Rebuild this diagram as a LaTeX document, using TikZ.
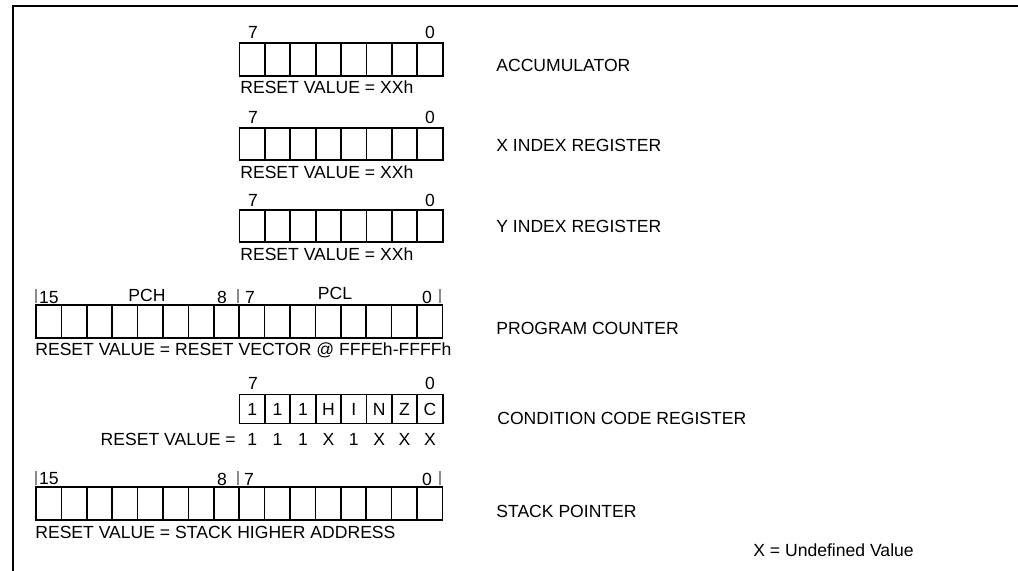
\documentclass[tikz,border=0pt]{standalone}
\usepackage{fontspec}
\setmainfont{Liberation Sans}
\usetikzlibrary{positioning}

\begin{document}
\begin{tikzpicture}[
			x=0.02cm, y=-0.02cm,
			cell/.style={draw=black, line width=1pt, minimum width=0.508cm, minimum height=0.65cm, inner sep=0pt, outer sep=0pt, font=\fontsize{10}{12}\selectfont},
			flagcell/.style={cell, minimum height=0.58cm},
			bitnum/.style={inner sep=0pt, font=\fontsize{10}{12}\selectfont},
			regname/.style={anchor=west, inner sep=0pt, font=\fontsize{10}{12}\selectfont},
			resetval/.style={anchor=west, inner sep=0pt, font=\fontsize{10}{12}\selectfont},
			marker/.style={draw=black!45, line width=0.7pt}
			]
			\useasboundingbox (0,0) rectangle (1018,571);
			% Frame (cut on the right and at the bottom)
			\draw[line width=0.8pt] (1018,6) -- (13,6) -- (13,571);
			
			% 8-bit registers
			\foreach \b in {0,...,7} {
				\node[cell] (acc\b) at ({252.2+25.4*(7-\b)}, 59.5) {};
				\node[cell] (xr\b) at ({252.2+25.4*(7-\b)}, 144) {};
				\node[cell] (yr\b) at ({252.2+25.4*(7-\b)}, 226) {};
			}
			\node[bitnum] (acc7n) at (253,32) {7};
			\node[bitnum] (acc0n) at (430,32) {0};
			\node[resetval] (accrst) at (240,87) {RESET VALUE = XXh};
			\node[regname] (accname) at (496,65) {ACCUMULATOR};
			
			\node[bitnum] (xr7n) at (253,117) {7};
			\node[bitnum] (xr0n) at (430,117) {0};
			\node[resetval] (xrrst) at (240,172) {RESET VALUE = XXh};
			\node[regname] (xrname) at (496,145) {X INDEX REGISTER};
			
			\node[bitnum] (yr7n) at (253,200) {7};
			\node[bitnum] (yr0n) at (430,200) {0};
			\node[resetval] (yrrst) at (240,254) {RESET VALUE = XXh};
			\node[regname] (yrname) at (496,226) {Y INDEX REGISTER};
			
			% Program counter
			\foreach \b in {0,...,15}
				\node[cell] (pc\b) at ({48.7+25.4*(15-\b)}, 321.5) {};
			\draw[marker] (36,289) -- (36,303);
			\draw[marker] (238,289) -- (238,303);
			\draw[marker] (440,289) -- (440,303);
			\node[bitnum] (pc15n) at (49,298) {15};
			\node[bitnum] (pchn) at (147,295) {PCH};
			\node[bitnum] (pc8n) at (222,297) {8};
			\node[bitnum] (pc7n) at (250,297) {7};
			\node[bitnum] (pcln) at (335,293) {PCL};
			\node[bitnum] (pc0n) at (427,297) {0};
			\node[resetval] (pcrst) at (35,350) {RESET VALUE = RESET VECTOR @ FFFEh-FFFFh};
			\node[regname] (pcname) at (496,328) {PROGRAM COUNTER};
			
			% Condition code register
			\foreach \b/\f/\r in {7/1/1, 6/1/1, 5/1/1, 4/H/X, 3/I/1, 2/N/X, 1/Z/X, 0/C/X} {
				\node[flagcell] (cc\b) at ({252.2+25.4*(7-\b)}, 409) {\f};
				\node[bitnum] (ccr\b) at ({252.2+25.4*(7-\b)}, 439) {\r};
			}
			\node[bitnum] (cc7n) at (253,383) {7};
			\node[bitnum] (cc0n) at (430,383) {0};
			\node[bitnum, anchor=east] (ccrst) at (236,439) {RESET VALUE =};
			\node[regname] (ccname) at (497,418) {CONDITION CODE REGISTER};
			
			% Stack pointer
			\foreach \b in {0,...,15}
				\node[cell] (sp\b) at ({48.7+25.4*(15-\b)}, 503.5) {};
			\draw[marker] (36,471) -- (36,485);
			\draw[marker] (238,471) -- (238,485);
			\draw[marker] (440,471) -- (440,485);
			\node[bitnum] (sp15n) at (49,479) {15};
			\node[bitnum] (sp8n) at (222,479) {8};
			\node[bitnum] (sp7n) at (249,479) {7};
			\node[bitnum] (sp0n) at (427,479) {0};
			\node[resetval] (sprst) at (35,532) {RESET VALUE = STACK HIGHER ADDRESS};
			\node[regname] (spname) at (496,511) {STACK POINTER};
			
			\node[regname] (note) at (753,550) {X = Undefined Value};
		\end{tikzpicture}
\end{document}
